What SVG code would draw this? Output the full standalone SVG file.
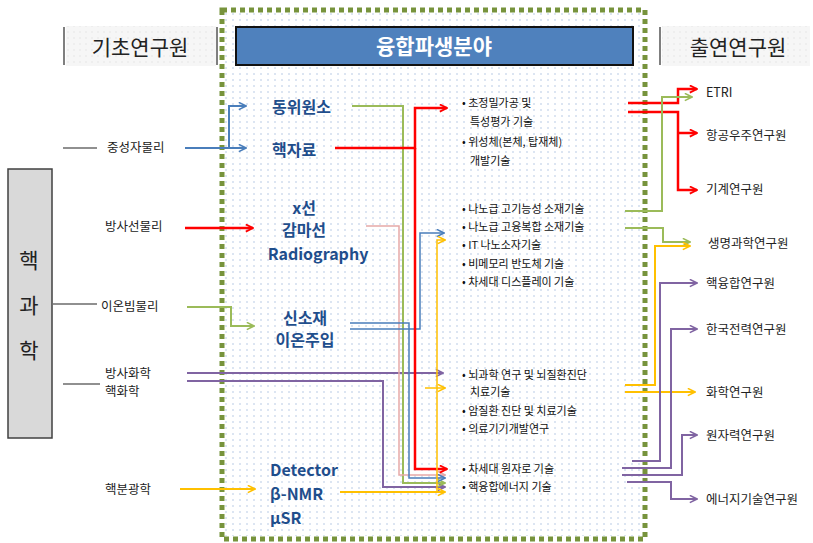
<svg xmlns="http://www.w3.org/2000/svg" width="813" height="543" viewBox="0 0 813 543">
<style>
.hdr{font-family:"Noto Sans CJK KR","Noto Sans",sans-serif;font-size:21px;fill:#222}
.lbl{font-family:"Noto Sans CJK KR","Noto Sans",sans-serif;font-size:12.5px;fill:#222}
.mid{font-family:"Noto Sans CJK KR","Noto Sans",sans-serif;font-size:16px;font-weight:bold;fill:#1F4E8C}
.bul{font-family:"Noto Sans CJK KR","Noto Sans",sans-serif;font-size:11px;fill:#111}
.c{fill:none;stroke-width:2}
.red{stroke:#FF0000;stroke-width:2.5}
.blue{stroke:#4A7EBB}
.green{stroke:#9BBB59}
.pink{stroke:#E6A9A8;stroke-width:1.5}
.yel{stroke:#FFC000}
.pur{stroke:#8064A2}
.blk{stroke:#222;stroke-width:1.2}
</style>
<defs>
<pattern id="dots" width="7" height="6" patternUnits="userSpaceOnUse">
<circle cx="2" cy="2" r="0.8" fill="#AFC3E2"/>
</pattern>
<pattern id="gdots" width="6" height="6" patternUnits="userSpaceOnUse">
<rect width="6" height="6" fill="#F6F6F6"/>
<circle cx="2" cy="2" r="0.7" fill="#E2E2E2"/>
</pattern>
<marker id="aRed" viewBox="0 0 10 10" refX="9" refY="5" markerWidth="9" markerHeight="9" markerUnits="userSpaceOnUse" orient="auto"><path d="M1,1 L9,5 L1,9" fill="none" stroke="#FF0000" stroke-width="2"/></marker>
<marker id="aBlue" viewBox="0 0 10 10" refX="9" refY="5" markerWidth="9" markerHeight="9" markerUnits="userSpaceOnUse" orient="auto"><path d="M1,1 L9,5 L1,9" fill="none" stroke="#4A7EBB" stroke-width="1.8"/></marker>
<marker id="aGreen" viewBox="0 0 10 10" refX="9" refY="5" markerWidth="9" markerHeight="9" markerUnits="userSpaceOnUse" orient="auto"><path d="M1,1 L9,5 L1,9" fill="none" stroke="#9BBB59" stroke-width="1.8"/></marker>
<marker id="aPink" viewBox="0 0 10 10" refX="9" refY="5" markerWidth="9" markerHeight="9" markerUnits="userSpaceOnUse" orient="auto"><path d="M1,1 L9,5 L1,9" fill="none" stroke="#E6A9A8" stroke-width="1.8"/></marker>
<marker id="aYel" viewBox="0 0 10 10" refX="9" refY="5" markerWidth="9" markerHeight="9" markerUnits="userSpaceOnUse" orient="auto"><path d="M1,1 L9,5 L1,9" fill="none" stroke="#FFC000" stroke-width="1.8"/></marker>
<marker id="aPur" viewBox="0 0 10 10" refX="9" refY="5" markerWidth="9" markerHeight="9" markerUnits="userSpaceOnUse" orient="auto"><path d="M1,1 L9,5 L1,9" fill="none" stroke="#8064A2" stroke-width="1.8"/></marker>
</defs>
<rect width="813" height="543" fill="#FFFFFF"/>

<g id="fusion-area">
<rect x="225" y="13" width="417" height="523" fill="url(#dots)"/>
<rect x="222" y="10" width="423" height="529" fill="none" stroke="#77933C" stroke-width="5" stroke-dasharray="5 4"/>
</g>

<g id="header-basic">
<rect x="66" y="26" width="150" height="40" fill="url(#gdots)"/>
<line x1="64" y1="27" x2="64" y2="65" stroke="#555" stroke-width="1.5"/>
<line x1="217" y1="27" x2="217" y2="65" stroke="#555" stroke-width="1.5"/>
<text class="hdr" x="140" y="55" text-anchor="middle">기초연구원</text>
</g>
<g id="header-fusion">
<rect x="236" y="27" width="397" height="38" fill="#4F81BD" stroke="#111" stroke-width="2"/>
<text x="434" y="54" text-anchor="middle" font-family="'Noto Sans CJK KR','Noto Sans',sans-serif" font-size="21" font-weight="bold" fill="#FFFFFF">융합파생분야</text>
</g>
<g id="header-gov">
<rect x="662" y="26" width="148" height="40" fill="url(#gdots)"/>
<line x1="660" y1="27" x2="660" y2="65" stroke="#555" stroke-width="1.5"/>
<text class="hdr" x="738" y="55" text-anchor="middle">출연연구원</text>
</g>

<g id="nuclear-science">
<rect x="8" y="169" width="44" height="269" fill="#D9D9D9" stroke="#404040" stroke-width="1.5"/>
<text class="hdr" x="29" y="268" text-anchor="middle">핵</text>
<text class="hdr" x="29" y="313" text-anchor="middle">과</text>
<text class="hdr" x="29" y="358" text-anchor="middle">학</text>
</g>

<g id="left-labels">
<g id="n-neutron"><line class="blk" x1="63" y1="148" x2="97" y2="148"/><text class="lbl" x="107" y="152">중성자물리</text></g>
<g id="n-radphys"><text class="lbl" x="105" y="231">방사선물리</text></g>
<g id="n-ionbeam"><line class="blk" x1="53" y1="304" x2="97" y2="304"/><text class="lbl" x="101" y="311">이온빔물리</text></g>
<g id="n-radchem"><line class="blk" x1="63" y1="384" x2="100" y2="384"/><text class="lbl" x="105" y="378">방사화학</text><text class="lbl" x="105" y="396">핵화학</text></g>
<g id="n-spectro"><text class="lbl" x="105" y="494">핵분광학</text></g>
</g>

<g id="mid-labels">
<g id="n-isotope"><text class="mid" x="272" y="113">동위원소</text></g>
<g id="n-nucdata"><text class="mid" x="272" y="156">핵자료</text></g>
<g id="n-radiography"><text class="mid" x="304" y="214" text-anchor="middle">x선</text><text class="mid" x="304" y="236" text-anchor="middle">감마선</text><text class="mid" x="318" y="260" text-anchor="middle">Radiography</text></g>
<g id="n-material"><text class="mid" x="305" y="324" text-anchor="middle">신소재</text><text class="mid" x="305" y="346" text-anchor="middle">이온주입</text></g>
<g id="n-detector"><text class="mid" x="270" y="476">Detector</text><text class="mid" x="270" y="500">β-NMR</text><text class="mid" x="270" y="524">μSR</text></g>
</g>

<g id="bullets">
<g id="b-space">
<text class="bul" x="462" y="107">• 초정밀가공 및</text>
<text class="bul" x="470" y="126">특성평가 기술</text>
<text class="bul" x="462" y="146">• 위성체(본체, 탑재체)</text>
<text class="bul" x="470" y="165">개발기술</text>
</g>
<g id="b-nano">
<text class="bul" x="462" y="213">• 나노급 고기능성 소재기술</text>
<text class="bul" x="462" y="231">• 나노급 고융복합 소재기술</text>
<text class="bul" x="462" y="249">• IT 나노소자기술</text>
<text class="bul" x="462" y="268">• 비메모리 반도체 기술</text>
<text class="bul" x="462" y="286">• 차세대 디스플레이 기술</text>
</g>
<g id="b-medical">
<text class="bul" x="462" y="379">• 뇌과학 연구 및 뇌질환진단</text>
<text class="bul" x="470" y="396">치료기술</text>
<text class="bul" x="462" y="415">• 암질환 진단 및 치료기술</text>
<text class="bul" x="462" y="433">• 의료기기개발연구</text>
</g>
<g id="b-energy">
<text class="bul" x="462" y="473">• 차세대 원자로 기술</text>
<text class="bul" x="462" y="491">• 핵융합에너지 기술</text>
</g>
</g>

<g id="right-labels">
<g id="r-etri"><text class="lbl" x="706" y="97">ETRI</text></g>
<g id="r-kari"><text class="lbl" x="706" y="140">항공우주연구원</text></g>
<g id="r-kimm"><text class="lbl" x="706" y="194">기계연구원</text></g>
<g id="r-kribb"><text class="lbl" x="708" y="248">생명과학연구원</text></g>
<g id="r-nfri"><text class="lbl" x="706" y="288">핵융합연구원</text></g>
<g id="r-kepri"><text class="lbl" x="706" y="334">한국전력연구원</text></g>
<g id="r-krict"><text class="lbl" x="706" y="397">화학연구원</text></g>
<g id="r-kaeri"><text class="lbl" x="706" y="440">원자력연구원</text></g>
<g id="r-kier"><text class="lbl" x="706" y="504">에너지기술연구원</text></g>
</g>

<g id="connectors">
<path class="c blue" d="M185,148 H246" marker-end="url(#aBlue)"/>
<path class="c blue" d="M229,148 V106 H246" marker-end="url(#aBlue)"/>
<path class="c red" d="M185,228 H253" marker-end="url(#aRed)"/>
<path class="c green" d="M187,307 H231 V326 H254" marker-end="url(#aGreen)"/>
<path class="c pur" d="M187,373 H443" marker-end="url(#aPur)"/>
<path class="c pur" d="M187,381 H383 V487 H445" marker-end="url(#aPur)"/>
<path class="c yel" d="M180,489 H255" marker-end="url(#aYel)"/>

<path class="c green" d="M352,106 H403 V483 H445" marker-end="url(#aGreen)"/>
<path class="c pink" d="M366,226 H399 V475 H445" marker-end="url(#aPink)"/>
<path class="c blue" style="stroke-width:1.5" d="M350,323 H409 V478 H445" marker-end="url(#aBlue)"/>
<path class="c blue" style="stroke-width:1.5" d="M350,329 H420 V233 H444" marker-end="url(#aBlue)"/>
<path class="c red" d="M335,148 H415 V108 H447" marker-end="url(#aRed)"/>
<path class="c red" d="M415,148 V469 H447" marker-end="url(#aRed)"/>
<path class="c yel" d="M340,492 H445" marker-end="url(#aYel)"/>
<path class="c yel" style="stroke-width:1.5" d="M437,492 V240 H445" marker-end="url(#aYel)"/>
<path class="c yel" style="stroke-width:1.5" d="M425,388 H445" marker-end="url(#aYel)"/>

<path class="c red" d="M628,103 H678 V89 H697" marker-end="url(#aRed)"/>
<path class="c red" d="M628,112 H678 V190 H697" marker-end="url(#aRed)"/>
<path class="c red" d="M678,133 H697" marker-end="url(#aRed)"/>
<path class="c green" d="M625,211 H662 V97 H692" marker-end="url(#aGreen)"/>
<path class="c green" d="M625,228 H663 V242 H690" marker-end="url(#aGreen)"/>
<path class="c yel" d="M625,385 H655 V246 H690" marker-end="url(#aYel)"/>
<path class="c yel" d="M625,392 H695" marker-end="url(#aYel)"/>
<path class="c pur" d="M632,461 H660 V283 H697" marker-end="url(#aPur)"/>
<path class="c pur" d="M622,468 H671 V329 H697" marker-end="url(#aPur)"/>
<path class="c pur" d="M622,475 H682 V435 H697" marker-end="url(#aPur)"/>
<path class="c pur" d="M627,482 H671 V499 H697" marker-end="url(#aPur)"/>
</g>
</svg>
